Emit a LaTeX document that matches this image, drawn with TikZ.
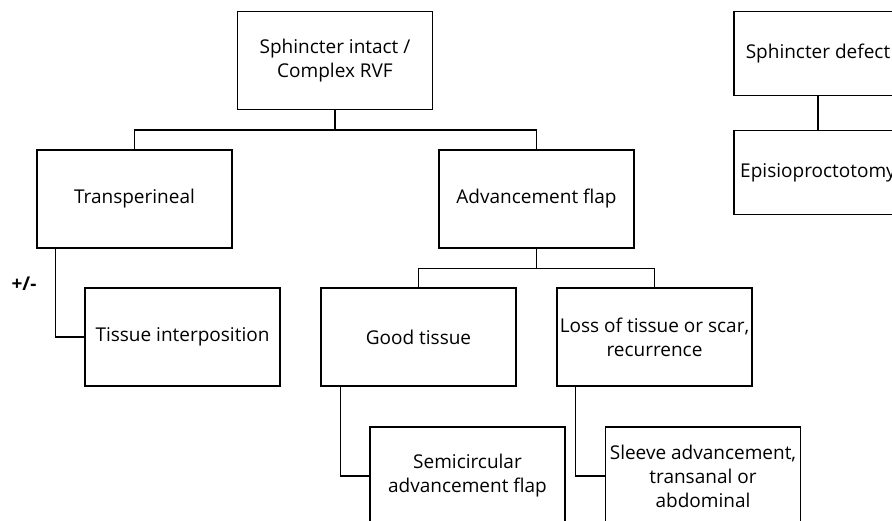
\documentclass[tikz,border=0pt]{standalone}
\usepackage{fontspec}
\setmainfont{Open Sans}
\begin{document}
\begin{tikzpicture}[x=1pt, y=-1pt, line width=1.3pt,
	box/.style={draw, rectangle, minimum width=195pt, minimum height=98pt, align=center, inner sep=1pt, font=\fontsize{19}{24}\selectfont},
	smallbox/.style={box, minimum width=168pt, minimum height=84pt}]
	\useasboundingbox (0,0) rectangle (892,521);
	\clip (0,0) rectangle (892,521);
	% left tree
	\node[box] (intact) at (335,60.5) {Sphincter intact /\\Complex RVF};
	\node[box] (trans) at (134.5,199) {Transperineal};
	\node[box] (adv) at (536.5,199) {Advancement flap};
	\node[box] (tissue) at (182.5,337) {Tissue interposition};
	\node[box] (good) at (418.5,337) {Good tissue};
	\node[box] (loss) at (654.5,337) {Loss of tissue or scar,\\recurrence};
	\node[box] (semi) at (467.5,476) {Semicircular\\advancement flap};
	\node[box] (sleeve) at (703,476) {Sleeve advancement,\\transanal or\\abdominal};
	% right tree
	\node[smallbox] (defect) at (818,53.5) {Sphincter defect};
	\node[smallbox] (episio) at (818,172.5) {Episioproctotomy};
	\node[font=\fontsize{19}{24}\selectfont\bfseries] (pm) at (24,284) {+/-};
	% connectors
	\draw (intact.south) -- ++(0,20) -| (trans);
	\draw (intact.south) -- ++(0,20) -| (adv);
	\draw (adv.south) -- ++(0,20) -| (good);
	\draw (adv.south) -- ++(0,20) -| (loss);
	\draw ([xshift=19pt]trans.south west) |- (tissue.west);
	\draw ([xshift=20pt]good.south west) |- (semi.west);
	\draw ([xshift=19pt]loss.south west) |- (sleeve.west);
	\draw (defect) -- (episio);
\end{tikzpicture}
\end{document}
